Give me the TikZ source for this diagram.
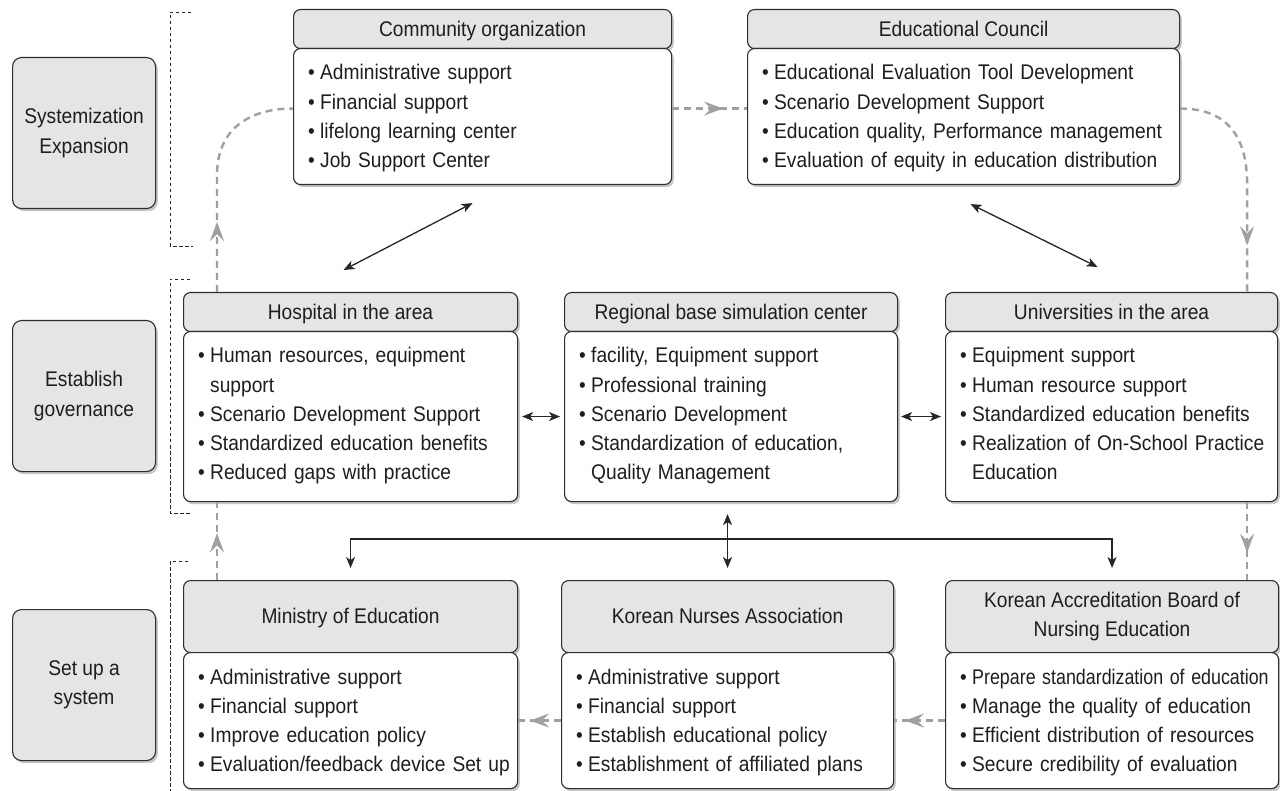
\documentclass[tikz,border=0pt]{standalone}
\usepackage{fontspec}
\usepackage{graphicx}
\setmainfont{Liberation Sans}[FakeStretch=0.905]
\usetikzlibrary{arrows.meta,shadows,decorations.markings,calc}

\definecolor{panelgray}{HTML}{E5E5E5}
\definecolor{edgegray}{HTML}{2E2E2E}
\definecolor{flowgray}{HTML}{A0A0A0}
\definecolor{inkgray}{HTML}{1E1E1E}

% bullet and continuation indent for the item lists
\newcommand\bul{\makebox[12pt][l]{•}}
\newcommand\cnt{\hspace*{12pt}}
% slightly condensed line
\newcommand\narrow[1]{\scalebox{0.93}[1]{#1}}

\tikzset{
  panel/.style={draw=edgegray, line width=1.1pt, rounded corners=7pt,
    anchor=north west, inner sep=0pt, text=inkgray,
    drop shadow={shadow xshift=2.2pt, shadow yshift=-2.6pt, fill=black, opacity=0.22}},
  headbox/.style={panel, fill=panelgray},
  headline/.style={headbox, text height=14pt, text depth=0pt},
  headlines/.style={headbox, align=center},
  bodypanel/.style={panel, fill=white},
  stagebox/.style={panel, fill=panelgray, rounded corners=9pt, align=center,
    minimum width=143pt, minimum height=151pt},
  itemlist/.style={anchor=base west, inner sep=0pt, align=left, text width=430pt, text=inkgray},
  dbl/.style={draw=black!85, line width=1.3pt,
    {Stealth[length=11pt,width=9pt,inset=3pt]}-{Stealth[length=11pt,width=9pt,inset=3pt]}},
  flow/.style={draw=flowgray, line width=2.4pt, dash pattern=on 7pt off 5pt},
  flowtip/.style={postaction={decorate, decoration={markings,
    mark=at position #1 with {\arrow[flowgray]{Stealth[length=19pt,width=14pt,inset=7pt]}}}}},
  bracket/.style={draw=black!85, line width=0.9pt, dash pattern=on 3.5pt off 2.5pt},
}

% name, x, y, width, header height, body height, title, items, header style
\newcommand\orgunit[9]{%
  \node[#9, minimum width=#4pt, minimum height=#5pt] (#1h) at (#2,#3) {#7};
  \node[bodypanel, minimum width=#4pt, minimum height=#6pt] (#1b) at (#2,#3+#5) {};
  \node[itemlist] (#1t) at (#2+15,#3+#5+32) {#8};
}

\begin{document}
\begin{tikzpicture}[x=1pt, y=-1pt, font=\fontsize{21.2pt}{29.2pt}\selectfont]
\useasboundingbox[fill=white] (0,0) rectangle (1280,791);

% stage labels on the left
\node[stagebox] (stage1) at (12,57) {Systemization\\Expansion};
\node[stagebox] (stage2) at (12,320) {Establish\\governance};
\node[stagebox] (stage3) at (12,609) {Set up a\\system};

% dotted brackets grouping each row
\draw[bracket] (191,12) -- (170,12) -- (170,246) -- (193,246);
\draw[bracket] (190,279) -- (170,279) -- (170,513) -- (190,513);
\draw[bracket] (188,561) -- (170,561) -- (170,800);

% top row
\orgunit{comm}{293}{9}{378}{39}{136}{Community organization}{%
\bul Administrative support\\
\bul Financial support\\
\bul lifelong learning center\\
\bul Job Support Center}{headline}
\orgunit{educ}{747}{9}{432}{39}{136}{Educational Council}{%
\bul Educational Evaluation Tool Development\\
\bul Scenario Development Support\\
\bul Education quality, Performance management\\
\bul Evaluation of equity in education distribution}{headline}

% middle row
\orgunit{hosp}{183}{292}{334}{39}{170}{Hospital in the area}{%
\bul Human resources, equipment\\
\cnt support\\
\bul Scenario Development Support\\
\bul Standardized education benefits\\
\bul Reduced gaps with practice}{headline}
\orgunit{reg}{564}{292}{333}{39}{170}{Regional base simulation center}{%
\bul facility, Equipment support\\
\bul Professional training\\
\bul Scenario Development\\
\bul Standardization of education,\\
\cnt Quality Management}{headline}
\orgunit{univ}{945}{292}{332}{39}{170}{Universities in the area}{%
\bul Equipment support\\
\bul Human resource support\\
\bul Standardized education benefits\\
\bul Realization of On-School Practice\\
\cnt Education}{headline}

% bottom row
\orgunit{mini}{183}{580}{334}{72}{136}{Ministry of Education}{%
\bul Administrative support\\
\bul Financial support\\
\bul Improve education policy\\
\bul Evaluation/feedback device Set up}{headline}
\orgunit{kna}{561}{580}{332}{72}{136}{Korean Nurses Association}{%
\bul Administrative support\\
\bul Financial support\\
\bul Establish educational policy\\
\bul Establishment of affiliated plans}{headline}
\orgunit{kabne}{945}{580}{333}{72}{136}{Korean Accreditation Board of\\Nursing Education}{%
\bul \narrow{Prepare standardization of education}\\
\bul Manage the quality of education\\
\bul Efficient distribution of resources\\
\bul Secure credibility of evaluation}{headlines}

% grey dashed flow around the diagram
\draw[flow, flowtip=0.68] ([yshift=8pt]commb.east) -- ([yshift=8pt]educb.west);
\draw[flow, flowtip=0.6] ([xshift=34pt]minih.north west) -- ([xshift=34pt]hospb.south west);
\draw[flow, flowtip=70pt] ([xshift=34pt]hosph.north west) -- ++(0,-117)
  .. controls +(0,-45) and +(-45,0) .. ([yshift=8pt]commb.west);
\draw[flow, flowtip=177pt] ([yshift=8pt]educb.east)
  .. controls +(45,0) and +(0,-50) .. ($(univh.north east)+(-31,-108)$)
  -- ([xshift=-31pt]univh.north east);
\draw[flow, flowtip=0.65] ([xshift=-31pt]univb.south east) -- ([xshift=-31pt]univb.south east |- kabneh.north);
\draw[flow, flowtip=40pt] (kabneb.west) -- (knab.east);
\draw[flow, flowtip=31pt] (knab.west) -- (minib.east);

% black two-way links
\draw[dbl] ($(commb.south)+(-10,18)$) -- ($(hosph.north)+(-7,-22)$);
\draw[dbl] ($(educb.south)+(7,19)$) -- ($(univh.north)+(-14,-25)$);
\draw[dbl] ([xshift=4pt]hospb.east) -- ([xshift=-4pt]regb.west);
\draw[dbl] ([xshift=3pt]regb.east) -- ([xshift=-4pt]univb.west);
\draw[dbl, shorten <=12pt, shorten >=12pt] (knah.north |- regb.south) -- (knah.north);
\draw[dbl, shorten <=12pt, shorten >=12pt] (minih.north) |- ($(knah.north)+(0,-41)$) -| (kabneh.north);
\end{tikzpicture}
\end{document}
